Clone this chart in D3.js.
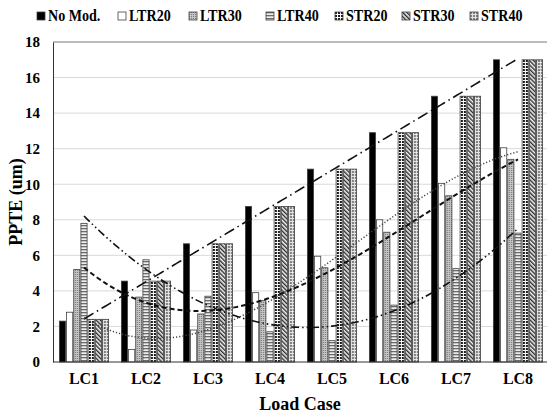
<!DOCTYPE html>
<html>
<head>
<meta charset="utf-8">
<script src="https://cdn.jsdelivr.net/npm/d3@7"></script>
<style>
  body { margin: 0; background: #fff; }
  svg { display: block; }
  text { font-family: "Liberation Serif", "Times New Roman", serif; font-weight: bold; fill: #000; }
</style>
</head>
<body>
<script>
// Chart data
var categories = ["LC1", "LC2", "LC3", "LC4", "LC5", "LC6", "LC7", "LC8"];
var seriesNames = ["No Mod.", "LTR20", "LTR30", "LTR40", "STR20", "STR30", "STR40"];
var noMod = [2.3, 4.55, 6.65, 8.75, 10.85, 12.9, 14.95, 17.0];
var ltr20 = [2.8, 0.7, 1.8, 3.9, 5.95, 8.0, 10.05, 12.05];
var ltr30 = [5.2, 3.65, 2.7, 3.45, 5.3, 7.3, 9.35, 11.4];
var ltr40 = [7.8, 5.75, 3.7, 1.7, 1.2, 3.2, 5.25, 7.25];
var str20 = [2.4, 4.55, 6.65, 8.75, 10.85, 12.9, 14.95, 17.0];
var str30 = [2.4, 4.55, 6.65, 8.75, 10.85, 12.9, 14.95, 17.0];
var str40 = [2.4, 4.55, 6.65, 8.75, 10.85, 12.9, 14.95, 17.0];
var yTicks = [0, 2, 4, 6, 8, 10, 12, 14, 16, 18];

var allSeries = [noMod, ltr20, ltr30, ltr40, str20, str30, str40];
var fills = ["#000", "#fff", "url(#pLtr30)", "url(#pLtr40)", "url(#pStr20)", "url(#pStr30)", "url(#pStr40)"];

var svgWidth = 547, svgHeight = 414;
var margin = { top: 42, right: 0, bottom: 52, left: 53 };
var chartWidth = svgWidth - margin.left - margin.right;
var chartHeight = svgHeight - margin.top - margin.bottom;

var svg = d3.select("body").append("svg")
  .attr("width", svgWidth)
  .attr("height", svgHeight);

// Fill patterns
var defs = svg.append("defs");

var p = defs.append("pattern").attr("id", "pLtr30").attr("patternUnits", "userSpaceOnUse")
  .attr("width", 2).attr("height", 2);
p.append("rect").attr("width", 2).attr("height", 2).attr("fill", "#c4c4c4");
p.append("rect").attr("width", 1).attr("height", 1).attr("fill", "#7a7a7a");

p = defs.append("pattern").attr("id", "pLtr40").attr("patternUnits", "userSpaceOnUse")
  .attr("width", 4).attr("height", 3);
p.append("rect").attr("width", 4).attr("height", 3).attr("fill", "#eeeeee");
p.append("rect").attr("width", 4).attr("height", 1.3).attr("fill", "#6a6a6a");

p = defs.append("pattern").attr("id", "pStr20").attr("patternUnits", "userSpaceOnUse")
  .attr("width", 3).attr("height", 3);
p.append("rect").attr("width", 3).attr("height", 3).attr("fill", "#fff");
p.append("rect").attr("width", 2).attr("height", 2).attr("fill", "#1a1a1a");

p = defs.append("pattern").attr("id", "pStr30").attr("patternUnits", "userSpaceOnUse")
  .attr("width", 3).attr("height", 3).attr("patternTransform", "rotate(-45)");
p.append("rect").attr("width", 3).attr("height", 3).attr("fill", "#f4f4f4");
p.append("rect").attr("width", 1.4).attr("height", 3).attr("fill", "#2a2a2a");

p = defs.append("pattern").attr("id", "pStr40").attr("patternUnits", "userSpaceOnUse")
  .attr("width", 3).attr("height", 3);
p.append("rect").attr("width", 3).attr("height", 3).attr("fill", "#e4e4e4");
p.append("rect").attr("width", 2).attr("height", 2).attr("fill", "#808080");

var chartGroup = svg.append("g")
  .attr("transform", `translate(${margin.left}, ${margin.top})`);

// Scales
var x0 = d3.scaleBand()
  .domain(categories)
  .range([0, chartWidth + 2])
  .paddingInner(0.19)
  .paddingOuter(0.095);

var x1 = d3.scaleBand()
  .domain(d3.range(seriesNames.length))
  .range([0, x0.bandwidth()]);

var yScale = d3.scaleLinear()
  .domain([0, 18])
  .range([chartHeight, 0]);

// Gridlines
chartGroup.append("g")
  .selectAll("line")
  .data(yTicks.filter(d => d > 0))
  .enter()
  .append("line")
  .attr("x1", 0)
  .attr("x2", chartWidth)
  .attr("y1", d => yScale(d))
  .attr("y2", d => yScale(d))
  .attr("stroke", d => d === 18 ? "#7a7a7a" : "#d9d9d9")
  .attr("stroke-width", 1);

// Bars
categories.forEach(function(cat, ci) {
  var g = chartGroup.append("g")
    .attr("transform", `translate(${x0(cat)}, 0)`);
  allSeries.forEach(function(vals, si) {
    g.append("rect")
      .attr("x", x1(si) + 0.5)
      .attr("y", yScale(vals[ci]))
      .attr("width", x1.bandwidth() - 1)
      .attr("height", yScale(0) - yScale(vals[ci]))
      .attr("fill", fills[si])
      .attr("stroke", "#404040")
      .attr("stroke-width", 0.8);
  });
});

// Polynomial trend lines (least squares fit)
function polyFit(ys, order) {
  var n = order + 1;
  var A = [], b = [];
  for (var i = 0; i < n; i++) {
    A.push(new Array(n).fill(0));
    b.push(0);
  }
  ys.forEach(function(yv, k) {
    var xv = k + 1;
    for (var i = 0; i < n; i++) {
      for (var j = 0; j < n; j++) A[i][j] += Math.pow(xv, i + j);
      b[i] += yv * Math.pow(xv, i);
    }
  });
  // gaussian elimination
  for (var c = 0; c < n; c++) {
    for (var r = c + 1; r < n; r++) {
      var f = A[r][c] / A[c][c];
      for (var j = c; j < n; j++) A[r][j] -= f * A[c][j];
      b[r] -= f * b[c];
    }
  }
  var coef = new Array(n).fill(0);
  for (var r = n - 1; r >= 0; r--) {
    var s = b[r];
    for (var j = r + 1; j < n; j++) s -= A[r][j] * coef[j];
    coef[r] = s / A[r][r];
  }
  return function(xv) {
    return coef.reduce((acc, cv, i) => acc + cv * Math.pow(xv, i), 0);
  };
}

var trends = [
  { vals: noMod, order: 1, dash: "11,4,1.5,4", width: 1.6, color: "#111" },
  { vals: ltr20, order: 3, dash: "1.2,2", width: 1.5, color: "#444" },
  { vals: ltr30, order: 3, dash: "5,3", width: 2, color: "#111" },
  { vals: ltr40, order: 2, dash: "8,3,1.5,3,1.5,3", width: 1.6, color: "#111" }
];

var xCenter = d3.scaleLinear()
  .domain([1, categories.length])
  .range([x0(categories[0]) + x0.bandwidth() / 2, x0(categories[categories.length - 1]) + x0.bandwidth() / 2]);

var line = d3.line()
  .x(d => xCenter(d[0]))
  .y(d => yScale(d[1]));

trends.forEach(function(t) {
  var fn = polyFit(t.vals, t.order);
  var pts = d3.range(1, categories.length + 0.001, 0.05).map(xv => [xv, fn(xv)]);
  chartGroup.append("path")
    .attr("d", line(pts))
    .attr("fill", "none")
    .attr("stroke", t.color)
    .attr("stroke-width", t.width)
    .attr("stroke-dasharray", t.dash);
});

// Axes
var yAxis = d3.axisLeft(yScale).tickValues(yTicks).tickSize(0).tickPadding(13);
var yG = chartGroup.append("g").call(yAxis);
yG.select(".domain").attr("stroke", "#333");
yG.selectAll("text").style("font-size", "15px").attr("font-family", null);

var xAxis = d3.axisBottom(x0).tickSize(0).tickPadding(11);
var xG = chartGroup.append("g")
  .attr("transform", `translate(0, ${chartHeight})`)
  .call(xAxis);
xG.select(".domain").attr("d", `M0,0H${chartWidth}`).attr("stroke", "#333");
xG.selectAll("text").style("font-size", "16px").attr("font-family", null);

// Axis labels
svg.append("text")
  .attr("transform", `translate(22, ${margin.top + chartHeight / 2}) rotate(-90)`)
  .attr("text-anchor", "middle")
  .style("font-size", "18px")
  .text("PPTE (um)");

svg.append("text")
  .attr("x", margin.left + chartWidth / 2)
  .attr("y", 410)
  .attr("text-anchor", "middle")
  .style("font-size", "18px")
  .text("Load Case");

// Legend
var legendX = [37, 118, 189, 266, 335, 402, 470];
var legend = svg.append("g");
seriesNames.forEach(function(name, i) {
  var lg = legend.append("g").attr("transform", `translate(${legendX[i]}, 0)`);
  lg.append("rect")
    .attr("x", 0).attr("y", 12)
    .attr("width", 8).attr("height", 8)
    .attr("fill", fills[i])
    .attr("stroke", "#404040")
    .attr("stroke-width", 0.8);
  lg.append("text")
    .attr("transform", "translate(11, 21) scale(0.88, 1)")
    .style("font-size", "16px")
    .text(name);
});
</script>
</body>
</html>
